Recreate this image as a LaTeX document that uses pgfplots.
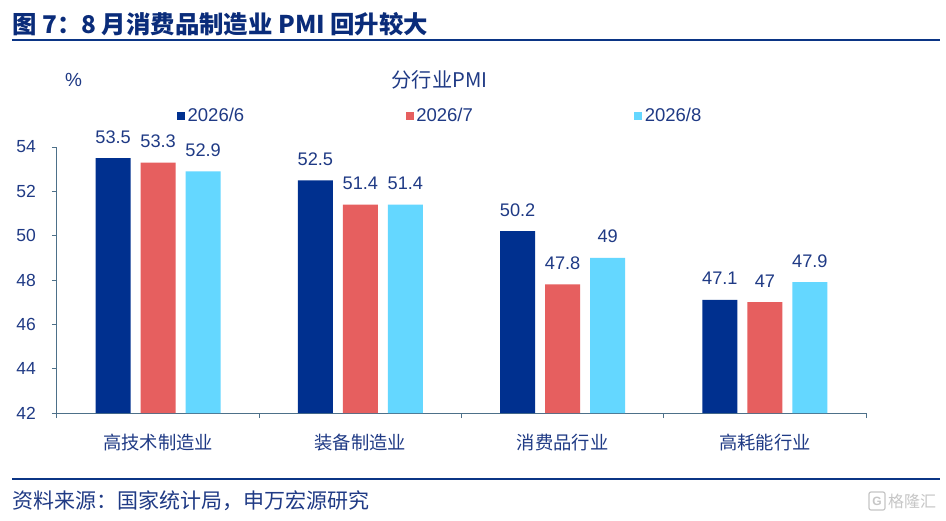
\documentclass[border=0pt]{standalone}
\usepackage{pgfplots}
\pgfplotsset{compat=1.18}
\usepackage{fontspec}
\setmainfont{Liberation Sans}
\newfontfamily\cjk{Noto Sans CJK SC}
\definecolor{cA}{HTML}{00308F}
\definecolor{cB}{HTML}{E65F5F}
\definecolor{cC}{HTML}{64D7FF}
\definecolor{txt}{HTML}{1F3A85}
\definecolor{ttl}{HTML}{0A2C7A}
\definecolor{axc}{HTML}{4D7089}
\definecolor{ln}{HTML}{0B3585}
\begin{document}
\begin{tikzpicture}
\path[use as bounding box] (0pt,0pt) rectangle (946pt,-520pt);
\fill[white] (0pt,0pt) rectangle (946pt,-520pt);
\node[anchor=west, inner sep=0pt, text=ttl, font=\cjk\bfseries\fontsize{24.4}{27}\selectfont] at (12pt,-24pt) {图 7：8 月消费品制造业 PMI 回升较大};
\draw[ln, line width=2pt] (12pt,-39.5pt) -- (940pt,-39.5pt);
\draw[ln, line width=2pt] (12pt,-478.5pt) -- (940pt,-478.5pt);
\node[anchor=west, inner sep=0pt, text=txt, font=\cjk\fontsize{21}{24}\selectfont] at (12pt,-501pt) {资料来源：国家统计局，申万宏源研究};
\node[text=txt, inner sep=0pt, font=\fontsize{19}{22}\selectfont] at (73.5pt,-80pt) {\%};
\node[text=txt, inner sep=0pt, font=\cjk\fontsize{20.2}{22}\selectfont] at (439.5pt,-80pt) {分行业PMI};
\draw[gray!45, line width=1.2pt, rounded corners=2pt] (869pt,-492pt) rectangle (885pt,-510pt);
\node[text=gray!45, inner sep=0pt, font=\fontsize{12}{14}\selectfont\bfseries] at (877pt,-501pt) {G};
\node[anchor=west, text=gray!45, inner sep=0pt, font=\cjk\fontsize{16}{18}\selectfont] at (888pt,-501pt) {格隆汇};
\begin{axis}[
  at={(57pt,-413pt)}, anchor=south west,
  scale only axis, width=809pt, height=266pt,
  xmin=-0.5, xmax=3.5, ymin=42, ymax=54,
  ybar, bar width=35pt,
  axis x line*=bottom, axis y line*=left,
  axis line style={axc, line width=1pt},
  ytick={42,44,...,54},
  xtick={-0.5,0.5,1.5,2.5,3.5},
  x tick label as interval,
  xticklabels={高技术制造业,装备制造业,消费品行业,高耗能行业},
  xticklabel style={font=\cjk\fontsize{18.3}{20}\selectfont, text=txt, anchor=base, yshift=-31pt},
  yticklabel style={font=\fontsize{17.5}{20}\selectfont, text=txt, anchor=east, inner sep=0pt, xshift=-16pt},
  /pgf/number format/assume math mode=true,
  tick align=outside,
  major tick length=5pt,
  tick style={axc, line width=1pt},
  nodes near coords,
  nodes near coords style={font=\fontsize{18.2}{20}\selectfont, text=txt, anchor=base, inner sep=0pt, yshift=15pt},
  legend style={draw=none, fill=none, at={(0.1483,1.1165)}, anchor=west,
    font=\fontsize{18.5}{20}\selectfont, text=txt, inner sep=0pt,
    nodes={inner sep=2.5pt},
    /tikz/every even column/.append style={column sep=159pt}},
  legend columns=3,
  legend image code/.code={\fill[#1] (0pt,-4pt) rectangle (8pt,4pt);},
]
\addplot[fill=cA, draw=none, bar shift=-45pt] coordinates {(0,53.5) (1,52.5) (2,50.2) (3,47.1)};
\addplot[fill=cB, draw=none, bar shift=0pt] coordinates {(0,53.3) (1,51.4) (2,47.8) (3,47)};
\addplot[fill=cC, draw=none, bar shift=45pt] coordinates {(0,52.9) (1,51.4) (2,49) (3,47.9)};
\legend{2026/6,2026/7,2026/8}
\end{axis}
\end{tikzpicture}
\end{document}
